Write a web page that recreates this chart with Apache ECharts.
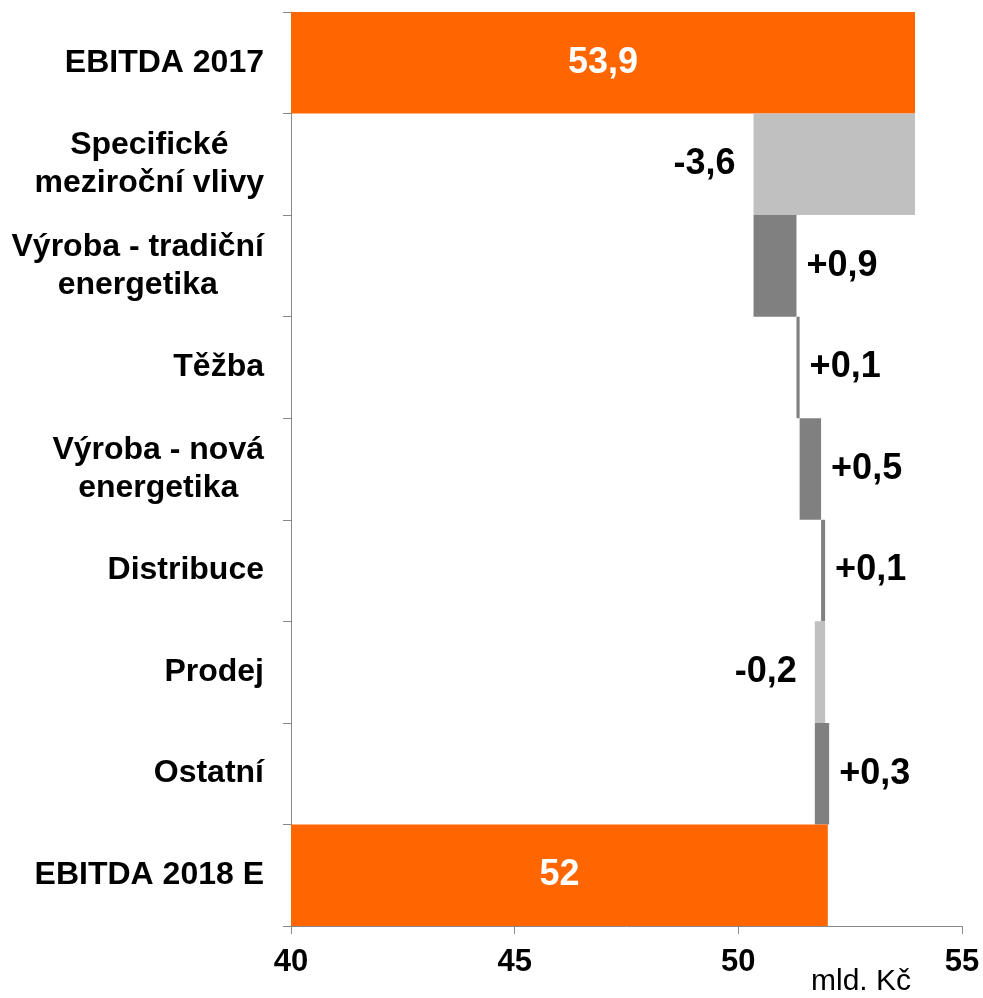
<!DOCTYPE html>
<html>
<head>
<meta charset="utf-8">
<script src="https://cdn.jsdelivr.net/npm/echarts@6/dist/echarts.min.js"></script>
<style>
  html, body { margin: 0; padding: 0; background: #fff; }
  #chart { width: 983px; height: 998px; }
</style>
</head>
<body>
<div id="chart"></div>
<script>
// data
const categories = [
  "EBITDA 2017",
  "Specifické\nmeziroční vlivy",
  "Výroba - tradiční\nenergetika",
  "Těžba",
  "Výroba - nová\nenergetika",
  "Distribuce",
  "Prodej",
  "Ostatní",
  "EBITDA 2018 E"
];
// bar lengths (mld. Kč)
const steps = [53.95, -3.61, 0.96, 0.07, 0.48, 0.09, -0.23, 0.32, 52.0];
const isTotal = [true, false, false, false, false, false, false, false, true];
const valueLabels = ["53,9", "-3,6", "+0,9", "+0,1", "+0,5", "+0,1", "-0,2", "+0,3", "52"];
const xTicks = [40, 45, 50, 55];

const ORANGE = "#FF6600";
const UP = "#808080";
const DOWN = "#C0C0C0";
const FONT = "'Liberation Sans', Arial, sans-serif";

// waterfall: transparent base + visible part
let running = 0;
const baseData = [];
const barData = [];
steps.forEach(function (v, i) {
  if (isTotal[i]) {
    running = v;
    baseData.push(0);
    barData.push({
      value: v,
      itemStyle: { color: ORANGE },
      label: { position: "inside", color: "#fff" }
    });
  } else {
    const start = running;
    const end = running + v;
    running = end;
    baseData.push(Math.min(start, end));
    barData.push({
      value: Math.abs(v),
      itemStyle: { color: v < 0 ? DOWN : UP },
      label: { position: v < 0 ? "left" : "right", distance: v < 0 ? 18 : 10, color: "#000" }
    });
  }
});

const chart = echarts.init(document.getElementById("chart"));
const option = {
  animation: false,
  grid: {
    left: 291,
    right: 21,
    top: 12,
    bottom: 72,
    containLabel: false,
    outerBoundsMode: "none"
  },
  xAxis: {
    type: "value",
    min: xTicks[0],
    max: xTicks[xTicks.length - 1],
    interval: 5,
    splitLine: { show: false },
    axisLine: { show: true, lineStyle: { color: "#888", width: 1 } },
    axisTick: { show: true, length: 8, lineStyle: { color: "#888" } },
    axisLabel: {
      margin: 21,
      color: "#000",
      fontFamily: FONT,
      fontWeight: "bold",
      fontSize: 31
    }
  },
  yAxis: {
    type: "category",
    inverse: true,
    data: categories,
    axisLine: { show: true, lineStyle: { color: "#888", width: 1 } },
    axisTick: { show: true, length: 8, lineStyle: { color: "#888" } },
    axisLabel: {
      margin: 27,
      color: "#000",
      fontFamily: FONT,
      fontWeight: "bold",
      fontSize: 32,
      lineHeight: 38,
      formatter: function (val) {
        return val.split("\n").map(function (s) { return "{c|" + s + "}"; }).join("\n");
      },
      rich: {
        c: {
          align: "center",
          color: "#000",
          fontFamily: FONT,
          fontWeight: "bold",
          fontSize: 32,
          lineHeight: 38
        }
      }
    }
  },
  series: [
    {
      name: "base",
      type: "bar",
      stack: "w",
      silent: true,
      barCategoryGap: "0%",
      itemStyle: { color: "transparent" },
      data: baseData
    },
    {
      name: "value",
      type: "bar",
      stack: "w",
      barCategoryGap: "0%",
      label: {
        show: true,
        fontFamily: FONT,
        fontWeight: "bold",
        fontSize: 36,
        formatter: function (p) { return valueLabels[p.dataIndex]; }
      },
      data: barData
    }
  ],
  graphic: [
    {
      type: "text",
      left: 811,
      top: 967,
      style: {
        text: "mld. Kč",
        fill: "#000",
        font: "30px " + FONT
      }
    }
  ]
};
chart.setOption(option);
</script>
</body>
</html>
